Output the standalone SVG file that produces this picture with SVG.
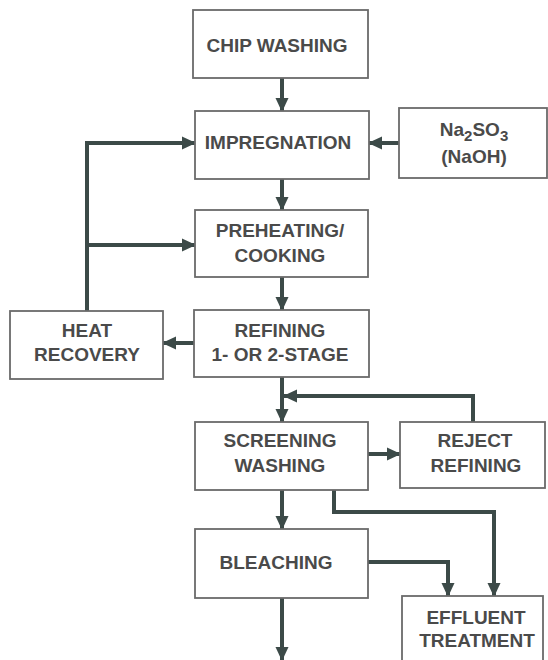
<svg xmlns="http://www.w3.org/2000/svg" width="548" height="660" viewBox="0 0 548 660">
<defs>
<style>
.box rect{fill:#fff;stroke:#6a6a6a;stroke-width:1.8}
.box text{font-family:"Liberation Sans",Arial,sans-serif;font-weight:bold;font-size:19px;fill:#4a4a4a;text-anchor:middle}
.conn path{fill:none;stroke:#3c4a48;stroke-width:4}
</style>
<marker id="ah" markerUnits="userSpaceOnUse" markerWidth="14" markerHeight="14" viewBox="0 0 14 14" refX="13" refY="7" orient="auto">
<path d="M0,0.5 L14,7 L0,13.5 z" fill="#3c4a48"/>
</marker>
</defs>
<rect width="548" height="660" fill="#fff"/>
<g class="conn" id="connectors">
<path d="M282,78 V111" marker-end="url(#ah)"/>
<path d="M399,143 H369" marker-end="url(#ah)"/>
<path d="M282,179 V210" marker-end="url(#ah)"/>
<path d="M282,277 V310" marker-end="url(#ah)"/>
<path d="M194,343 H163" marker-end="url(#ah)"/>
<path d="M87,311 V143 H195" marker-end="url(#ah)"/>
<path d="M87,245 H195" marker-end="url(#ah)"/>
<path d="M282,377 V422" marker-end="url(#ah)"/>
<path d="M473,422 V396 H284" marker-end="url(#ah)"/>
<path d="M368,454 H400" marker-end="url(#ah)"/>
<path d="M282,490 V529" marker-end="url(#ah)"/>
<path d="M334,490 V512 H494 V596" marker-end="url(#ah)"/>
<path d="M368,562 H448 V596" marker-end="url(#ah)"/>
<path d="M282,598 V660" marker-end="url(#ah)"/>
</g>
<g class="box" id="chip-washing">
<rect x="193" y="10" width="175" height="68"/>
<text x="277" y="52">CHIP WASHING</text>
</g>
<g class="box" id="impregnation">
<rect x="195" y="111" width="174" height="68"/>
<text x="278" y="149">IMPREGNATION</text>
</g>
<g class="box" id="chemicals">
<rect x="399" y="108" width="148" height="70"/>
<text x="474" y="136">Na<tspan font-size="15" dy="5">2</tspan><tspan dy="-5">SO</tspan><tspan font-size="15" dy="5">3</tspan></text>
<text x="474" y="163">(NaOH)</text>
</g>
<g class="box" id="preheating">
<rect x="195" y="210" width="173" height="67"/>
<text x="280" y="237">PREHEATING/</text>
<text x="280" y="262">COOKING</text>
</g>
<g class="box" id="heat-recovery">
<rect x="10" y="311" width="153" height="68"/>
<text x="87" y="337">HEAT</text>
<text x="87" y="361">RECOVERY</text>
</g>
<g class="box" id="refining">
<rect x="194" y="310" width="175" height="67"/>
<text x="280" y="337">REFINING</text>
<text x="280" y="361">1- OR 2-STAGE</text>
</g>
<g class="box" id="screening">
<rect x="195" y="422" width="173" height="68"/>
<text x="280" y="447">SCREENING</text>
<text x="280" y="472">WASHING</text>
</g>
<g class="box" id="reject-refining">
<rect x="400" y="422" width="145" height="66"/>
<text x="475" y="447">REJECT</text>
<text x="476" y="472">REFINING</text>
</g>
<g class="box" id="bleaching">
<rect x="195" y="529" width="173" height="69"/>
<text x="276" y="569">BLEACHING</text>
</g>
<g class="box" id="effluent">
<rect x="402" y="596" width="141" height="70"/>
<text x="476" y="624">EFFLUENT</text>
<text x="477" y="647">TREATMENT</text>
</g>
</svg>
